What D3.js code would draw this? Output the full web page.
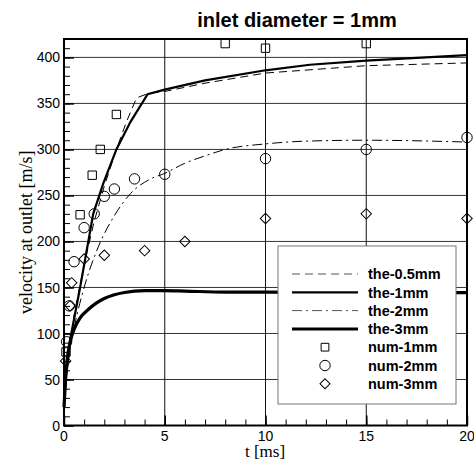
<!DOCTYPE html>
<html>
<head>
<meta charset="utf-8">
<script src="https://cdn.jsdelivr.net/npm/d3@7"></script>
<style>
  body { margin: 0; background: #fff; }
  svg { display: block; }
</style>
</head>
<body>
<div id="chart"></div>
<script>
// theory curves [t (ms), velocity (m/s)]
const the05mm = [[0,30],[0.5,120],[1,175],[1.5,222],[2,260],[2.6,300],[3.1,330],[3.6,356],[4.2,361],[5,363],[7,372],[10,383],[15,391],[20,394]];
const the1mm = [[0,20],[0.1,55],[0.3,93],[0.8,150],[1.45,230],[1.95,263],[2.6,300],[3.3,330],[4.15,360],[5,365],[7,375],[10,386],[12.2,392],[15,396.5],[20,402.5]];
const the2mm = [[0,20],[0.2,70],[0.55,111],[0.96,147],[1.7,194],[2.5,228],[3.3,252],[4.3,268],[5,274],[6,285],[7,293],[8,300],[10,306],[12,309],[15,310],[20,308]];
const the3mm = [[0,20],[0.05,40],[0.15,70],[0.3,90],[0.55,107],[0.8,117],[1.2,126],[1.6,133],[2,138],[2.5,142],[3,144.5],[4,146.5],[5,146.5],[6,146],[8,145],[10,145],[15,144.5],[20,144.5]];

// numerical results
const num1mm = [[0.1,80],[0.8,229],[1.4,272],[1.8,300],[2.6,338],[8,415],[10,410],[15,415]];
const num2mm = [[0.13,91],[0.26,130],[0.5,178],[1,215],[1.5,230],[2,249],[2.5,257],[3.5,268],[5,273],[10,290],[15,300],[20,313]];
const num3mm = [[0.08,70],[0.3,130],[0.38,155],[1,181],[2,185],[4,190],[6,200],[10,225],[15,230],[20,225]];

const xTicks = [0, 5, 10, 15, 20];
const yTicks = [0, 50, 100, 150, 200, 250, 300, 350, 400];
const legendLabels = ["the-0.5mm", "the-1mm", "the-2mm", "the-3mm", "num-1mm", "num-2mm", "num-3mm"];

const W = 474, H = 466;
const svg = d3.select("#chart").append("svg").attr("width", W).attr("height", H);

const x = d3.scaleLinear().domain([0, 20]).range([64, 467]);
const y = d3.scaleLinear().domain([0, 420]).range([425.5, 39]);

const sans = "Liberation Sans, Arial, sans-serif";
const serif = "Liberation Serif, Times New Roman, serif";

// grid
svg.append("g").selectAll("line").data(yTicks.filter(d => d > 0)).enter().append("line")
    .attr("x1", x(0)).attr("x2", x(20))
    .attr("y1", d => y(d)).attr("y2", d => y(d))
    .attr("stroke", "#333").attr("stroke-width", 1);
svg.append("g").selectAll("line").data(xTicks.filter(d => d > 0 && d < 20)).enter().append("line")
    .attr("x1", d => x(d)).attr("x2", d => x(d))
    .attr("y1", y(0)).attr("y2", y(420))
    .attr("stroke", "#111").attr("stroke-width", 1);

// minor ticks, pointing inward
svg.append("g")
    .attr("transform", `translate(${x(0)},0)`)
    .call(d3.axisRight(y).tickValues(d3.range(0, 421, 10)).tickSize(6).tickFormat(""))
    .call(g => g.select(".domain").remove())
    .selectAll("line").attr("stroke", "#000");
svg.append("g")
    .attr("transform", `translate(0,${y(0)})`)
    .call(d3.axisTop(x).tickValues(d3.range(0, 21, 1)).tickSize(6).tickFormat(""))
    .call(g => g.select(".domain").remove())
    .selectAll("line").attr("stroke", "#000");
svg.append("g")
    .attr("transform", `translate(${x(0)},0)`)
    .call(d3.axisRight(y).tickValues(yTicks).tickSize(10).tickFormat(""))
    .call(g => g.select(".domain").remove())
    .selectAll("line").attr("stroke", "#000").attr("stroke-width", 1.5);
svg.append("g")
    .attr("transform", `translate(0,${y(0)})`)
    .call(d3.axisTop(x).tickValues(xTicks).tickSize(10).tickFormat(""))
    .call(g => g.select(".domain").remove())
    .selectAll("line").attr("stroke", "#000").attr("stroke-width", 1.5);

// tick labels
svg.append("g").selectAll("text").data(yTicks).enter().append("text")
    .attr("x", x(0) - 4).attr("y", d => y(d)).attr("dy", "0.36em")
    .attr("text-anchor", "end")
    .style("font-family", sans).style("font-size", "14px")
    .text(d => d);
svg.append("g").selectAll("text").data(xTicks).enter().append("text")
    .attr("x", d => x(d)).attr("y", y(0) + 15)
    .attr("text-anchor", "middle")
    .style("font-family", sans).style("font-size", "14px")
    .text(d => d);

// theory lines
const line = d3.line().x(d => x(d[0])).y(d => y(d[1]));
const lineSmooth = d3.line().x(d => x(d[0])).y(d => y(d[1])).curve(d3.curveMonotoneX);

const plot = svg.append("g");
plot.append("path").datum(the05mm).attr("d", line)
    .attr("fill", "none").attr("stroke", "#000").attr("stroke-width", 1).attr("stroke-dasharray", "8,5");
plot.append("path").datum(the1mm).attr("d", line)
    .attr("fill", "none").attr("stroke", "#000").attr("stroke-width", 2.2);
plot.append("path").datum(the2mm).attr("d", lineSmooth)
    .attr("fill", "none").attr("stroke", "#000").attr("stroke-width", 1).attr("stroke-dasharray", "10,4,2,4");
plot.append("path").datum(the3mm).attr("d", lineSmooth)
    .attr("fill", "none").attr("stroke", "#000").attr("stroke-width", 3.2);

// markers
const sym = {
    square: d3.symbol().type(d3.symbolSquare).size(70),
    circle: d3.symbol().type(d3.symbolCircle).size(85),
    diamond: d3.symbol().type(d3.symbolSquare).size(55)
};
plot.append("g").selectAll("path").data(num1mm).enter().append("path")
    .attr("d", sym.square)
    .attr("transform", d => `translate(${x(d[0])},${y(d[1])})`)
    .attr("fill", "none").attr("stroke", "#000").attr("stroke-width", 1);
plot.append("g").selectAll("path").data(num2mm).enter().append("path")
    .attr("d", sym.circle)
    .attr("transform", d => `translate(${x(d[0])},${y(d[1])})`)
    .attr("fill", "none").attr("stroke", "#000").attr("stroke-width", 1);
plot.append("g").selectAll("path").data(num3mm).enter().append("path")
    .attr("d", sym.diamond)
    .attr("transform", d => `translate(${x(d[0])},${y(d[1])}) rotate(45)`)
    .attr("fill", "none").attr("stroke", "#000").attr("stroke-width", 1);

// frame
svg.append("rect")
    .attr("x", x(0)).attr("y", y(420))
    .attr("width", x(20) - x(0)).attr("height", y(0) - y(420))
    .attr("fill", "none").attr("stroke", "#000").attr("stroke-width", 2);

// legend
const lg = svg.append("g").attr("transform", "translate(278,246)");
lg.append("rect").attr("width", 178).attr("height", 158)
    .attr("fill", "#fff").attr("stroke", "#777").attr("stroke-width", 1);
const rowY = i => 28 + i * 18.3;
const lineStyles = [
    { w: 1, dash: "8,5", c: "#555" },
    { w: 2.2, dash: null, c: "#000" },
    { w: 1, dash: "10,4,2,4", c: "#555" },
    { w: 3, dash: null, c: "#000" }
];
lineStyles.forEach((s, i) => {
    lg.append("line")
        .attr("x1", 14).attr("x2", 80).attr("y1", rowY(i)).attr("y2", rowY(i))
        .attr("stroke", s.c).attr("stroke-width", s.w)
        .attr("stroke-dasharray", s.dash);
});
const legendSyms = [
    { d: d3.symbol().type(d3.symbolSquare).size(60)(), rot: 0 },
    { d: d3.symbol().type(d3.symbolCircle).size(85)(), rot: 0 },
    { d: d3.symbol().type(d3.symbolSquare).size(50)(), rot: 45 }
];
legendSyms.forEach((s, i) => {
    lg.append("path").attr("d", s.d)
        .attr("transform", `translate(47,${rowY(i + 4)}) rotate(${s.rot})`)
        .attr("fill", "none").attr("stroke", "#000").attr("stroke-width", 1);
});
lg.selectAll("text.lbl").data(legendLabels).enter().append("text")
    .attr("class", "lbl")
    .attr("x", 90).attr("y", (d, i) => rowY(i)).attr("dy", "0.36em")
    .style("font-family", sans)
    .style("font-size", "14.5px").style("font-weight", "bold")
    .text(d => d);

// titles
svg.append("text")
    .attr("x", 297).attr("y", 27)
    .attr("text-anchor", "middle")
    .style("font-family", sans)
    .style("font-size", "20px").style("font-weight", "bold")
    .text("inlet diameter = 1mm");

svg.append("text")
    .attr("transform", `translate(32,${(y(0) + y(420)) / 2}) rotate(-90)`)
    .attr("text-anchor", "middle")
    .style("font-family", serif)
    .style("font-size", "18px")
    .text("velocity at outlet [m/s]");

svg.append("text")
    .attr("x", 265).attr("y", 457)
    .attr("text-anchor", "middle")
    .style("font-family", serif)
    .style("font-size", "17px")
    .text("t [ms]");
</script>
</body>
</html>
